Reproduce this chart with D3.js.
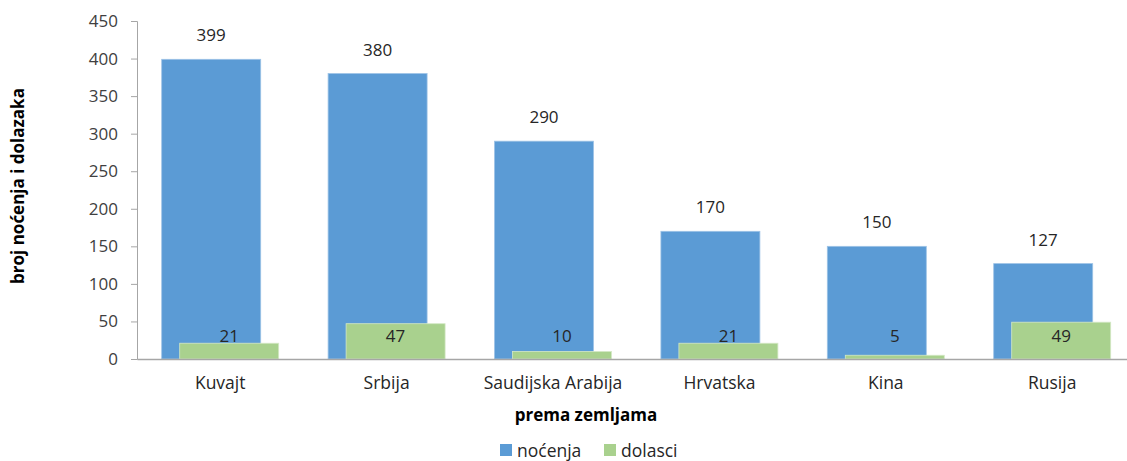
<!DOCTYPE html>
<html>
<head>
  <meta charset="utf-8">
  <title>noćenja i dolasci</title>
  <script src="https://d3js.org/d3.v7.min.js"></script>
  <style>
    body { margin: 0; background: #fff; }
    text { font-family: "Open Sans", "Noto Sans", sans-serif; }
  </style>
</head>
<body>
<div id="chart"></div>
<script>
  // data
  var countries = ["Kuvajt", "Srbija", "Saudijska Arabija", "Hrvatska", "Kina", "Rusija"];
  var nocenja = [399, 380, 290, 170, 150, 127];
  var dolasci = [21, 47, 10, 21, 5, 49];
  var yTicks = [0, 50, 100, 150, 200, 250, 300, 350, 400, 450];

  var width = 1127, height = 461;
  var margin = {top: 21, left: 137, bottom: 102};
  var step = 166.4;
  var barW = 99;
  var shift = 9;

  var svg = d3.select("#chart").append("svg")
      .attr("width", width)
      .attr("height", height);

  var x = d3.scaleBand()
      .domain(countries)
      .range([margin.left, margin.left + step * countries.length])
      .padding(0);

  var y = d3.scaleLinear()
      .domain([0, 450])
      .range([height - margin.bottom, margin.top]);

  // y axis
  var yAxis = svg.append("g")
      .attr("transform", "translate(" + margin.left + ",0)")
      .call(d3.axisLeft(y).tickValues(yTicks).tickSize(6).tickPadding(13));
  yAxis.selectAll("line, path").attr("stroke", "#a6a6a6");
  yAxis.selectAll("text")
      .attr("font-size", 17)
      .attr("fill", "#404040")
      .style("font-family", "'Open Sans', sans-serif");

  var cx = function(d, i) { return x(countries[i]) + x.bandwidth() / 2; };

  // blue bars
  svg.selectAll(".bar-n")
      .data(nocenja)
      .enter().append("rect")
      .attr("class", "bar-n")
      .attr("x", function(d, i) { return cx(d, i) - shift - barW / 2; })
      .attr("y", function(d) { return y(d); })
      .attr("width", barW)
      .attr("height", function(d) { return y(0) - y(d); })
      .attr("fill", "#5b9bd5")
      .attr("stroke", "#9dc3e6")
      .attr("stroke-width", 0.8);

  // green bars
  svg.selectAll(".bar-d")
      .data(dolasci)
      .enter().append("rect")
      .attr("class", "bar-d")
      .attr("x", function(d, i) { return cx(d, i) + shift - barW / 2; })
      .attr("y", function(d) { return y(d); })
      .attr("width", barW)
      .attr("height", function(d) { return y(0) - y(d); })
      .attr("fill", "#a9d18e")
      .attr("stroke", "#d4e8c6")
      .attr("stroke-width", 0.8);

  // x axis line
  var xAxis = svg.append("g")
      .attr("transform", "translate(0," + y(0) + ")")
      .call(d3.axisBottom(x).tickSize(0).tickPadding(18));
  xAxis.select("path").attr("stroke", "#a6a6a6").attr("stroke-width", 1.5);
  xAxis.selectAll("text")
      .attr("font-size", 17.5)
      .attr("fill", "#262626")
      .style("font-family", "'Open Sans', sans-serif");

  // value labels
  svg.selectAll(".lab-n")
      .data(nocenja)
      .enter().append("text")
      .attr("x", function(d, i) { return cx(d, i) - shift; })
      .attr("y", function(d) { return y(d) - 18; })
      .attr("text-anchor", "middle")
      .attr("font-size", 17)
      .attr("fill", "#262626")
      .text(function(d) { return d; });

  svg.selectAll(".lab-d")
      .data(dolasci)
      .enter().append("text")
      .attr("x", function(d, i) { return cx(d, i) + shift; })
      .attr("y", y(0) - 17)
      .attr("text-anchor", "middle")
      .attr("font-size", 17)
      .attr("fill", "#262626")
      .text(function(d) { return d; });

  // axis titles
  svg.append("text")
      .attr("transform", "translate(24,186) rotate(-90)")
      .attr("text-anchor", "middle")
      .attr("font-size", 17)
      .attr("font-weight", "bold")
      .attr("fill", "#000")
      .text("broj noćenja i dolazaka");

  svg.append("text")
      .attr("x", 586)
      .attr("y", 421)
      .attr("text-anchor", "middle")
      .attr("font-size", 17)
      .attr("font-weight", "bold")
      .attr("fill", "#000")
      .text("prema zemljama");

  // legend
  var legend = [
    {name: "noćenja", color: "#5b9bd5", x: 500},
    {name: "dolasci", color: "#a9d18e", x: 604}
  ];
  var lg = svg.selectAll(".legend")
      .data(legend)
      .enter().append("g")
      .attr("transform", function(d) { return "translate(" + d.x + ",444)"; });
  lg.append("rect")
      .attr("width", 12)
      .attr("height", 12)
      .attr("fill", function(d) { return d.color; });
  lg.append("text")
      .attr("x", 17)
      .attr("y", 12.5)
      .attr("font-size", 17.5)
      .attr("fill", "#262626")
      .text(function(d) { return d.name; });
</script>
</body>
</html>
